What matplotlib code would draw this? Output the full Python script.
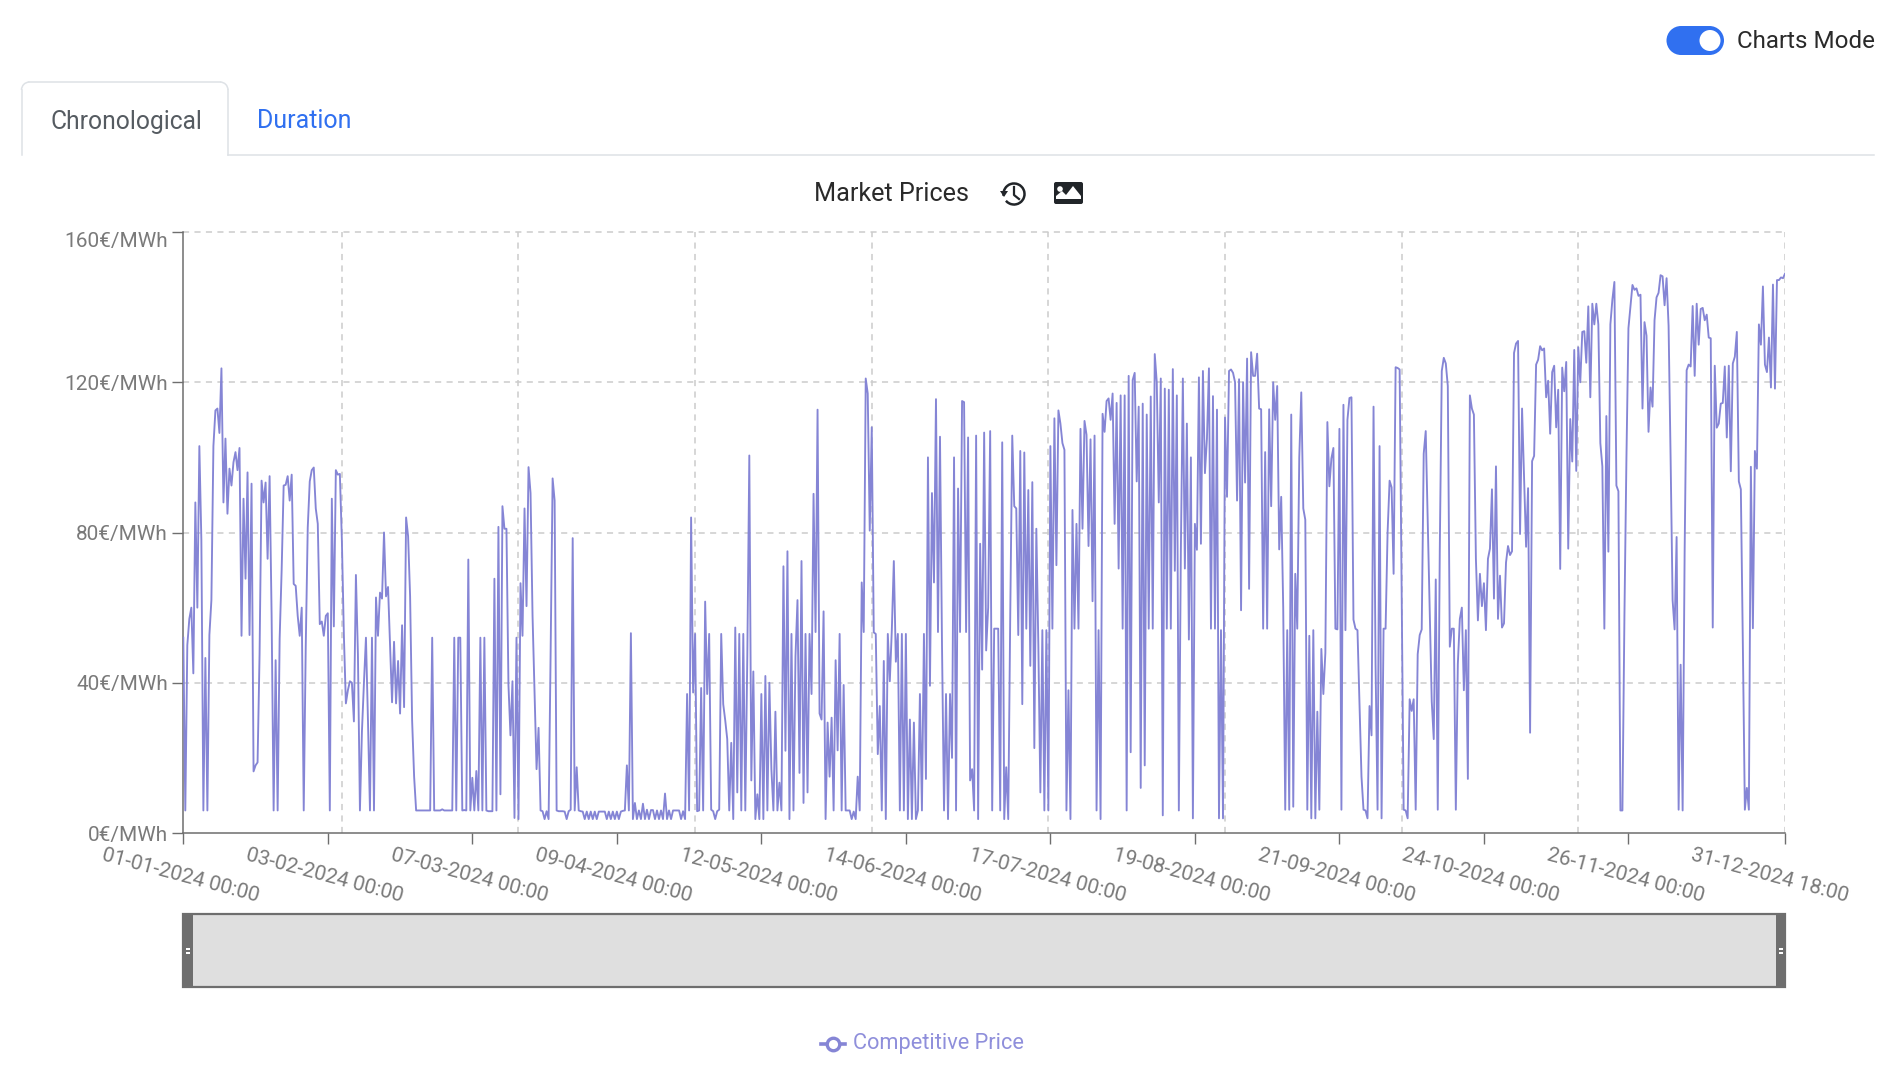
import numpy as np
import matplotlib
matplotlib.use('Agg')
import matplotlib.pyplot as plt
from matplotlib.patches import Arc, Circle, FancyBboxPatch, Polygon, Rectangle
from matplotlib.transforms import ScaledTranslation

plt.rcParams['font.family'] = ['Roboto', 'Liberation Sans', 'DejaVu Sans']
plt.rcParams['font.weight'] = 'light'

# values, one row = 10 consecutive points
prices_part1 = [
    52, 6, 50, 57, 60, 42.5, 88, 60, 103, 78,
    6, 46.6, 6, 52.7, 62, 103, 112.5, 113, 106.5, 123.7,
    88, 105, 85, 97, 92.5, 98.7, 101.4, 96.6, 102.5, 52.5,
    89, 67.7, 96, 52.7, 93, 16.4, 18, 18.8, 47.6, 93.8,
    88, 93.3, 73, 95, 57.8, 6, 46, 6, 51.7, 70,
    92.5, 92.7, 95, 88.5, 95.4, 66.3, 65.8, 57.8, 52.5, 60,
    6, 49.6, 81.3, 93.6, 96.6, 97.3, 86.4, 82.3, 55.6, 56.3,
    52.5, 57.8, 58.5, 6, 89, 55, 96.6, 95.4, 95.6, 78,
    52.7, 34.5, 38, 40.4, 40, 29.7, 68.7, 47.6, 6, 27,
    40, 52, 30, 6, 52, 6, 62.7, 52.5, 64, 62.4,
    80, 63, 65.5, 50, 34.8, 50.9, 34.5, 45.8, 31.8, 55.3,
    33.5, 84, 79, 63, 30, 15, 6, 6, 6, 6,
    6, 6, 6, 6, 52, 6, 6, 6, 6, 6.3,
    6, 6, 6, 6, 6, 52, 6, 52, 52, 6,
    6.1, 6, 72.8, 6, 14.7, 6, 16.5, 6, 52, 6,
    52, 6, 5.8, 5.8, 5.8, 67.7, 6, 81.5, 10.3, 87,
]
prices_part2 = [
    81, 81, 39.4, 26, 40.4, 4, 52, 3.7, 66.5, 52.5,
    86.4, 60.4, 97.4, 90.5, 57.8, 37.4, 17, 28, 6, 5.8,
    3.7, 5.8, 3.7, 47.6, 94.4, 88.5, 6, 5.8, 5.8, 5.8,
    5.7, 3.7, 5.8, 6.2, 78.5, 6, 17.5, 6, 5.8, 5.7,
    3.7, 5.7, 3.7, 5.7, 3.7, 5.7, 3.7, 5.7, 5.7, 5.7,
    5.7, 3.7, 5.7, 3.7, 5.7, 3.7, 5.7, 3.7, 5.7, 5.9,
    6, 18, 6, 53.2, 3.7, 8, 3.7, 6, 3.7, 7.8,
    3.7, 6.2, 3.7, 6.1, 6.1, 3.7, 6, 3.7, 6, 3.7,
    10.5, 3.7, 6, 3.7, 6, 6, 6, 6, 3.7, 5.8,
    3.7, 37, 6, 84, 37.4, 53, 5.8, 6, 38.6, 6,
    61.6, 37, 53, 6.2, 5.8, 3.7, 5.8, 6.2, 53, 34.3,
    30, 25, 6, 24, 3.7, 54.7, 10.8, 53, 6, 53,
    6, 47, 100.5, 14, 43, 3.7, 10.3, 3.7, 37, 3.7,
    41.8, 6, 40, 17, 6, 32.3, 6, 13.4, 6, 71,
    21.9, 75, 3.7, 53, 6, 47, 62, 16, 72.4, 8,
    53, 10.8, 53, 37, 90.3, 53.5, 112.7, 31.8, 30.2, 59,
]
prices_part3 = [
    3.7, 29.4, 15, 30.7, 6, 46, 22, 53, 6, 39.4,
    6, 6, 6, 3.7, 5.7, 3.7, 15, 6, 66.7, 53.5,
    121, 117, 80.5, 108, 53.4, 53, 21, 33.8, 6, 45.8,
    3.7, 53, 40.4, 54, 72.4, 45.6, 53, 6, 53, 6,
    53, 3.7, 30.2, 3.7, 29.4, 3.7, 6, 37, 6, 53,
    14.4, 100, 39.2, 90.5, 66.7, 115.5, 53.5, 105.5, 50, 6,
    37, 3.7, 37, 20, 100, 6, 91.7, 53.5, 115, 114.7,
    53.5, 105.3, 14, 17, 6, 105.8, 3.7, 77, 43.5, 106.6,
    48.6, 60, 107, 6, 54.4, 54.4, 54.4, 6, 104, 3.7,
    17.5, 3.7, 58, 105.8, 87, 86.4, 52.7, 101.7, 34.3, 101.3,
    54.4, 91.3, 44.5, 93.4, 22.6, 81, 50, 10.8, 54, 6,
    54, 6, 103, 54.4, 110.4, 71.3, 112.5, 109, 103.8, 102,
    6, 38, 3.7, 86, 54.4, 82.3, 54.4, 107.6, 81, 109.7,
    106, 76.4, 104.8, 61.7, 105.8, 6, 54, 3.7, 111.6, 106.8,
    115, 115.7, 110, 117, 82.3, 114.5, 70.4, 116.5, 54.4, 116.5,
    6, 121.7, 21.5, 120.6, 122.5, 93.6, 113.5, 12, 114.3, 18,
]
prices_part4 = [
    111.4, 54.4, 116.2, 54.4, 127.5, 120, 88, 121, 4.7, 118.3,
    54.4, 118, 54.4, 123.5, 69.8, 116.5, 6, 75, 121, 70.4,
    109, 51.5, 100, 3.9, 82.3, 75.4, 121.3, 77, 123, 95.8,
    105, 123.7, 54.4, 116.3, 54.4, 112.7, 3.9, 54, 3.9, 110.6,
    89.5, 123, 123.4, 122.5, 120, 88.5, 120.8, 59.3, 120, 93.3,
    126.3, 65, 128, 121.7, 121.7, 127.6, 113, 112.8, 54.4, 101.4,
    54.4, 112.8, 87, 120, 110, 119, 75.5, 89.5, 60, 6.2,
    54, 6.2, 111.4, 7, 69, 54.4, 100, 117.3, 86.4, 83.4,
    6.2, 52.5, 3.9, 54, 3.9, 32.3, 6.2, 49, 37, 48,
    109.4, 92.3, 99.7, 102.5, 54.4, 54.2, 107.6, 6.2, 114, 54,
    110, 115.8, 116, 56.8, 54.4, 54, 35, 15, 6.2, 6,
    3.9, 33.8, 26, 113.5, 45, 6.2, 103, 3.9, 54.4, 54.4,
    80, 93.8, 92, 69, 124, 123.8, 123.4, 65, 6.2, 6,
    3.9, 35.6, 32.5, 35.6, 6.2, 47.6, 52.7, 54.2, 101, 107,
    83.4, 60, 35, 25, 67.5, 6.2, 75, 123, 126.5, 125,
    119, 49.6, 54.4, 54.4, 6.2, 45, 57, 60, 38, 54,
]
prices_part5 = [
    14.4, 116.5, 113, 111.4, 73, 56.6, 69, 60.4, 66.5, 54,
    73, 75.7, 91.5, 62.4, 97.6, 57, 68.5, 54.7, 55.8, 72,
    76.4, 74, 75, 127.8, 130.3, 131, 79.6, 113, 95, 76.2,
    91.8, 26.7, 99, 100.4, 124.7, 126, 129.6, 128.5, 129, 116,
    120.4, 106.3, 122.7, 124.4, 108, 118, 70.3, 123.9, 117.6, 125.4,
    75.7, 110.2, 98.9, 128.6, 96.4, 129.3, 120, 133.4, 133.6, 125.2,
    140.2, 116, 140.9, 135.4, 140.9, 135.4, 103.8, 97.6, 54.4, 111,
    74.9, 135.4, 142, 146.7, 92.5, 91, 6, 6, 57.8, 100,
    134.4, 140, 145.9, 144.6, 145, 143, 143.3, 113, 136, 132.4,
    106.8, 118.6, 113.5, 136.5, 142.6, 143.8, 148.5, 148.2, 140.5, 147.7,
    135, 100, 62, 54.2, 78.8, 6.2, 44.8, 6, 75, 123.2,
    124.7, 124.2, 140.3, 121.7, 140.9, 130, 139.5, 139.8, 136.5, 138,
    131.9, 131.7, 54.7, 124.4, 107.9, 109, 114.3, 114.5, 124.2, 105.3,
    124.4, 96.3, 125, 126.8, 133.4, 93.6, 91.5, 50, 6.2, 12,
    6.2, 97.5, 54.5, 101.7, 97, 135.4, 130, 145.5, 124.7, 122.7,
    131.9, 118.6, 146, 118.3, 147.2, 147.2, 147.9, 147.7, 148.9,
]
prices = prices_part1 + prices_part2 + prices_part3 + prices_part4 + prices_part5

tick_points = [0, 72, 144, 216, 288, 360, 432, 504, 576, 648, 720, 798]
tick_labels = ['01-01-2024 00:00', '03-02-2024 00:00', '07-03-2024 00:00',
               '09-04-2024 00:00', '12-05-2024 00:00', '14-06-2024 00:00',
               '17-07-2024 00:00', '19-08-2024 00:00', '21-09-2024 00:00',
               '24-10-2024 00:00', '26-11-2024 00:00', '31-12-2024 18:00']
grid_points = [79, 167, 255, 343, 431, 519, 607, 695, 798]
y_ticks = [0, 40, 80, 120, 160]
y_labels = ['0€/MWh', '40€/MWh', '80€/MWh', '120€/MWh', '160€/MWh']

W, H = 1900, 1070
LINE = '#8585d5'
AXIS = '#6e6e6e'
BLUE = '#3070f0'

fig = plt.figure(figsize=(W / 100, H / 100), dpi=100)
ax = fig.add_axes([183.3 / W, 1 - 833 / H, (1785 - 183.3) / W, (833 - 232) / H])

# --- Plot ---
for g in grid_points:
    ax.axvline(g, color='#cccccc', lw=1.1, dashes=(4, 3.5), zorder=1)
for v in y_ticks[1:]:
    ax.axhline(v, color='#cccccc', lw=1.1, dashes=(4, 3.5), zorder=1, clip_on=False)
ax.plot(np.arange(len(prices)), prices, color=LINE, lw=1.35, zorder=3)

ax.set_xlim(0, 798)
ax.set_ylim(0, 160)
ax.set_xticks(tick_points)
ax.set_xticklabels(tick_labels, rotation=-15, ha='center', va='center', rotation_mode='anchor')
ax.set_yticks(y_ticks)
ax.set_yticklabels(y_labels)
ax.tick_params(axis='both', length=8, width=1, color=AXIS, labelcolor='#7a7a7a', labelsize=15)
ax.tick_params(axis='x', pad=23)
ax.tick_params(axis='y', pad=3)
for lab in ax.get_xticklabels() + ax.get_yticklabels():
    lab.set_fontweight('normal')
ax.get_yticklabels()[-1].set_va('top')
shift = ScaledTranslation(-3 / 100, 0, fig.dpi_scale_trans)
last_shift = ScaledTranslation(-15 / 100, 0, fig.dpi_scale_trans)
for lab in ax.get_xticklabels()[:-1]:
    lab.set_transform(lab.get_transform() + shift)
last_label = ax.get_xticklabels()[-1]
last_label.set_transform(last_label.get_transform() + last_shift)
for side in ['top', 'right']:
    ax.spines[side].set_visible(False)
for side in ['left', 'bottom']:
    ax.spines[side].set_color(AXIS)
    ax.spines[side].set_linewidth(1.1)

# page furniture around the chart, in pixel coordinates
page = fig.add_axes([0, 0, 1, 1], zorder=5)
page.set_xlim(0, W)
page.set_ylim(H, 0)
page.axis('off')
page.patch.set_alpha(0)

# charts mode switch
page.add_patch(Rectangle((1681, 26), 28.5, 29, fc=BLUE, ec='none'))
page.add_patch(Circle((1681, 40.5), 14.5, fc=BLUE, ec='none'))
page.add_patch(Circle((1709.5, 40.5), 14.5, fc=BLUE, ec='none'))
page.add_patch(Circle((1710, 40.5), 10.5, fc='white', ec='none'))
page.text(1875, 41.5, 'Charts Mode', fontsize=17.4, color='#2a2a2a', ha='right', va='center',
          fontweight='normal')

# tabs
TAB = '#dee2e6'
page.plot([228, 1874], [155, 155], color=TAB, lw=1.1)
page.plot([21.5, 21.5], [155, 90], color=TAB, lw=1.1)
page.plot([228, 228], [155, 90], color=TAB, lw=1.1)
page.plot([29, 220], [82, 82], color=TAB, lw=1.1)
page.add_patch(Arc((29.5, 90), 16, 16, theta1=180, theta2=270, color=TAB, lw=1.1))
page.add_patch(Arc((220, 90), 16, 16, theta1=270, theta2=360, color=TAB, lw=1.1))
page.text(51, 121.5, 'Chronological', fontsize=17.7, color='#555b61', ha='left', va='center',
          fontweight='normal')
page.text(257, 121.5, 'Duration', fontsize=18, color=BLUE, ha='left', va='center',
          fontweight='normal')

# title with its two icons
page.text(814, 194, 'Market Prices', fontsize=18.2, color='#2a2a2a', ha='left', va='center',
          fontweight='normal')
page.add_patch(Arc((1014, 194), 21, 21, theta1=-190, theta2=140, color='#212529', lw=1.8))
page.add_patch(Polygon([[1000, 191], [1008, 191], [1004, 197]], fc='#212529', ec='none'))
page.plot([1014, 1014, 1019], [187, 195, 199], color='#212529', lw=1.6)
page.add_patch(FancyBboxPatch((1055, 183), 27, 20, boxstyle='round,pad=1,rounding_size=2',
                              fc='#212529', ec='none'))
page.add_patch(Circle((1060, 189), 2.8, fc='white', ec='none'))
page.add_patch(Polygon([[1056, 199], [1056, 196], [1062, 191], [1066, 195], [1073, 186],
                        [1081, 196], [1081, 199]], fc='white', ec='none'))

# zoom slider under the chart
page.add_patch(Rectangle((183, 913.5), 1602, 73.5, fc='#dfdfdf', ec=AXIS, lw=1.6))
for x0 in [182.5, 1776]:
    page.add_patch(Rectangle((x0, 913), 10, 74, fc=AXIS, ec='none'))
    for y0 in [947.5, 951.5]:
        page.add_patch(Rectangle((x0 + 3, y0), 4, 2, fc='white', ec='none'))

# legend
page.plot([821, 845], [1044, 1044], color=LINE, lw=2.6)
page.plot([833], [1044], marker='o', ms=9, mfc='white', mec=LINE, mew=2.4)
page.text(853, 1044, 'Competitive Price', fontsize=15.7, color='#8f8fdb', ha='left', va='center',
          fontweight='normal')

plt.savefig('out.png', dpi=100)
plt.close()
